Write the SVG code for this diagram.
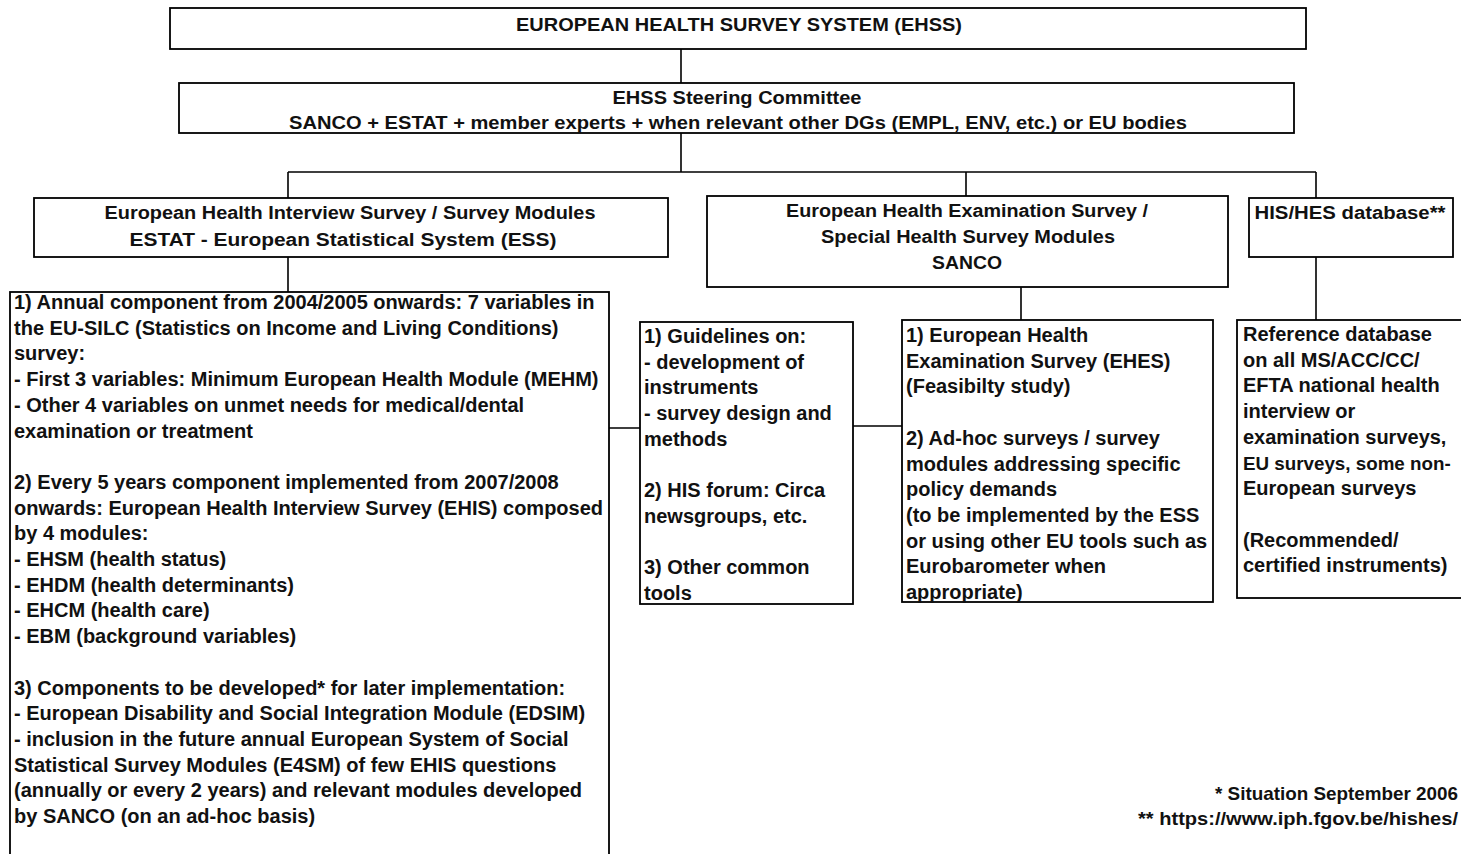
<svg xmlns="http://www.w3.org/2000/svg" width="1461" height="854" viewBox="0 0 1461 854">
<style>
.box{fill:#fff;stroke:#000;stroke-width:1.8}
.ln{fill:none;stroke:#000;stroke-width:1.6}
.h{font-family:"Liberation Sans",Arial,sans-serif;font-weight:bold;font-size:17.5px;fill:#111;text-anchor:middle}
.t{font-family:"Liberation Sans",Arial,sans-serif;font-weight:bold;font-size:20px;fill:#111}
.f{font-family:"Liberation Sans",Arial,sans-serif;font-weight:bold;font-size:19px;fill:#111;text-anchor:end}
</style>
<rect width="1461" height="854" fill="#fff"/>
<g id="connectors">
<path class="ln" d="M681 49V83M681 133V172M288 172H1316M288 172V198M966 172V196M1316 172V198M288 257V292M1021 287V322M1316 257V320M609 428H640M853 426H902"/>
</g>
<g id="ehss">
<rect class="box" x="170" y="8" width="1136" height="41"/>
<text class="h" x="739" y="31" textLength="446" lengthAdjust="spacingAndGlyphs">EUROPEAN HEALTH SURVEY SYSTEM (EHSS)</text>
</g>
<g id="steering">
<rect class="box" x="179" y="83" width="1115" height="50"/>
<text class="h" x="737" y="104" textLength="249" lengthAdjust="spacingAndGlyphs">EHSS Steering Committee</text>
<text class="h" x="738" y="129" textLength="898" lengthAdjust="spacingAndGlyphs">SANCO + ESTAT + member experts +  when relevant other DGs (EMPL, ENV, etc.) or EU bodies</text>
</g>
<g id="ehis">
<rect class="box" x="34" y="198" width="634" height="59"/>
<text class="h" x="350" y="219" textLength="491" lengthAdjust="spacingAndGlyphs">European Health Interview Survey / Survey Modules</text>
<text class="h" x="343" y="246" textLength="427" lengthAdjust="spacingAndGlyphs">ESTAT - European Statistical System (ESS)</text>
</g>
<g id="ehes">
<rect class="box" x="707" y="196" width="521" height="91"/>
<text class="h" x="967" y="217" textLength="362" lengthAdjust="spacingAndGlyphs">European Health Examination Survey /</text>
<text class="h" x="968" y="243" textLength="294" lengthAdjust="spacingAndGlyphs">Special Health Survey Modules</text>
<text class="h" x="967" y="269" textLength="70" lengthAdjust="spacingAndGlyphs">SANCO</text>
</g>
<g id="hisdb">
<rect class="box" x="1249" y="198" width="204" height="59"/>
<text class="h" x="1350" y="219" textLength="191" lengthAdjust="spacingAndGlyphs">HIS/HES database**</text>
</g>
<g id="ehis-detail">
<rect class="box" x="10" y="292" width="599" height="580"/>
<text class="t" x="14">
<tspan x="14" y="309">1) Annual component from 2004/2005 onwards: 7 variables in</tspan>
<tspan x="14" y="334.7">the EU-SILC (Statistics on Income and Living Conditions)</tspan>
<tspan x="14" y="360.4">survey:</tspan>
<tspan x="14" y="386.1">- First 3 variables: Minimum European Health Module (MEHM)</tspan>
<tspan x="14" y="411.8">- Other 4 variables on unmet needs for medical/dental</tspan>
<tspan x="14" y="437.5">examination or treatment</tspan>
<tspan x="14" y="488.9">2) Every 5 years component implemented from 2007/2008</tspan>
<tspan x="14" y="514.6">onwards: European Health Interview Survey (EHIS) composed</tspan>
<tspan x="14" y="540.3">by 4 modules:</tspan>
<tspan x="14" y="566">- EHSM (health status)</tspan>
<tspan x="14" y="591.7">- EHDM (health determinants)</tspan>
<tspan x="14" y="617.4">- EHCM (health care)</tspan>
<tspan x="14" y="643.1">- EBM (background variables)</tspan>
<tspan x="14" y="694.5">3) Components to be developed* for later implementation:</tspan>
<tspan x="14" y="720.2">- European Disability and Social Integration Module (EDSIM)</tspan>
<tspan x="14" y="745.9">- inclusion in the future annual European System of Social</tspan>
<tspan x="14" y="771.6">Statistical Survey Modules (E4SM) of few EHIS questions</tspan>
<tspan x="14" y="797.3">(annually or every 2 years) and relevant modules developed</tspan>
<tspan x="14" y="823">by SANCO (on an ad-hoc basis)</tspan>
</text>
</g>
<g id="guidelines">
<rect class="box" x="640" y="322" width="213" height="282"/>
<text class="t">
<tspan x="644" y="343">1) Guidelines on:</tspan>
<tspan x="644" y="368.7">- development of</tspan>
<tspan x="644" y="394.4">instruments</tspan>
<tspan x="644" y="420.1">- survey design and</tspan>
<tspan x="644" y="445.8">methods</tspan>
<tspan x="644" y="497.2">2) HIS forum: Circa</tspan>
<tspan x="644" y="522.9">newsgroups, etc.</tspan>
<tspan x="644" y="574.3">3) Other common</tspan>
<tspan x="644" y="600">tools</tspan>
</text>
</g>
<g id="ehes-detail">
<rect class="box" x="902" y="320" width="311" height="282"/>
<text class="t">
<tspan x="906" y="342">1) European Health</tspan>
<tspan x="906" y="367.7">Examination Survey (EHES)</tspan>
<tspan x="906" y="393.4">(Feasibilty study)</tspan>
<tspan x="906" y="444.8">2) Ad-hoc surveys / survey</tspan>
<tspan x="906" y="470.5">modules addressing specific</tspan>
<tspan x="906" y="496.2">policy demands</tspan>
<tspan x="906" y="521.9">(to be implemented by the ESS</tspan>
<tspan x="906" y="547.6">or using other EU tools such as</tspan>
<tspan x="906" y="573.3">Eurobarometer when</tspan>
<tspan x="906" y="599">appropriate)</tspan>
</text>
</g>
<g id="hisdb-detail">
<rect class="box" x="1237" y="320" width="240" height="278"/>
<text class="t">
<tspan x="1243" y="341">Reference database</tspan>
<tspan x="1243" y="366.7">on all MS/ACC/CC/</tspan>
<tspan x="1243" y="392.4">EFTA national health</tspan>
<tspan x="1243" y="418.1">interview or</tspan>
<tspan x="1243" y="443.8">examination surveys,</tspan>
</text>
<text class="t" x="1243" y="469.5" style="font-size:18.8px">EU surveys, some non-</text>
<text class="t">
<tspan x="1243" y="495.2">European surveys</tspan>
<tspan x="1243" y="546.6">(Recommended/</tspan>
<tspan x="1243" y="572.3">certified instruments)</tspan>
</text>
</g>
<g id="footnotes">
<text class="f" x="1458" y="800" textLength="243" lengthAdjust="spacingAndGlyphs">* Situation September 2006</text>
<text class="f" x="1458" y="825" textLength="320" lengthAdjust="spacingAndGlyphs">** https://www.iph.fgov.be/hishes/</text>
</g>
</svg>
